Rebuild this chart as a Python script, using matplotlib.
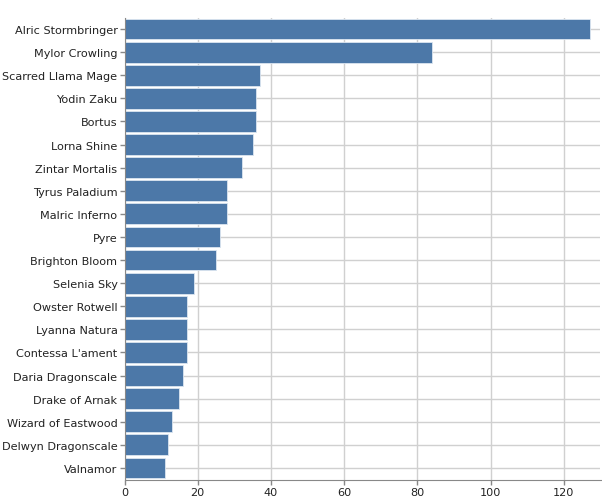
import matplotlib
matplotlib.use('Agg')
import matplotlib.pyplot as plt

# Datos
names = ['Alric Stormbringer', 'Mylor Crowling', 'Scarred Llama Mage', 'Yodin Zaku',
         'Bortus', 'Lorna Shine', 'Zintar Mortalis', 'Tyrus Paladium', 'Malric Inferno',
         'Pyre', 'Brighton Bloom', 'Selenia Sky', 'Owster Rotwell', 'Lyanna Natura',
         "Contessa L'ament", 'Daria Dragonscale', 'Drake of Arnak', 'Wizard of Eastwood',
         'Delwyn Dragonscale', 'Valnamor']
counts = [127, 84, 37, 36, 36, 35, 32, 28, 28, 26, 25, 19, 17, 17, 17, 16, 15, 13, 12, 11]
xticks = [0, 20, 40, 60, 80, 100, 120]

fig = plt.figure(figsize=(6.02, 5.02), dpi=100)
ax = fig.add_axes([124.5 / 602, 21.5 / 502, (600.5 - 124.5) / 602, (483.5 - 21.5) / 502])

pos = list(range(len(names)))
ax.barh(pos, counts, height=0.9, color='#4c78a8', edgecolor='#dbe5f0', linewidth=0.6, zorder=2)

ax.set_ylim(len(names) - 0.5, -0.5)
ax.set_xlim(0, 130)
ax.set_yticks(pos)
ax.set_yticklabels(names)
ax.set_xticks(xticks)

ax.grid(True, color='#d0d0d0', linewidth=1, zorder=0)
ax.set_axisbelow(True)
for s in ['top', 'right']:
    ax.spines[s].set_visible(False)
for s in ['left', 'bottom']:
    ax.spines[s].set_color('#888888')
ax.tick_params(colors='#888888', length=3.6, width=1, labelsize=8.1, labelcolor='#222222', pad=1.5)

fig.savefig('out.png', dpi=100)
